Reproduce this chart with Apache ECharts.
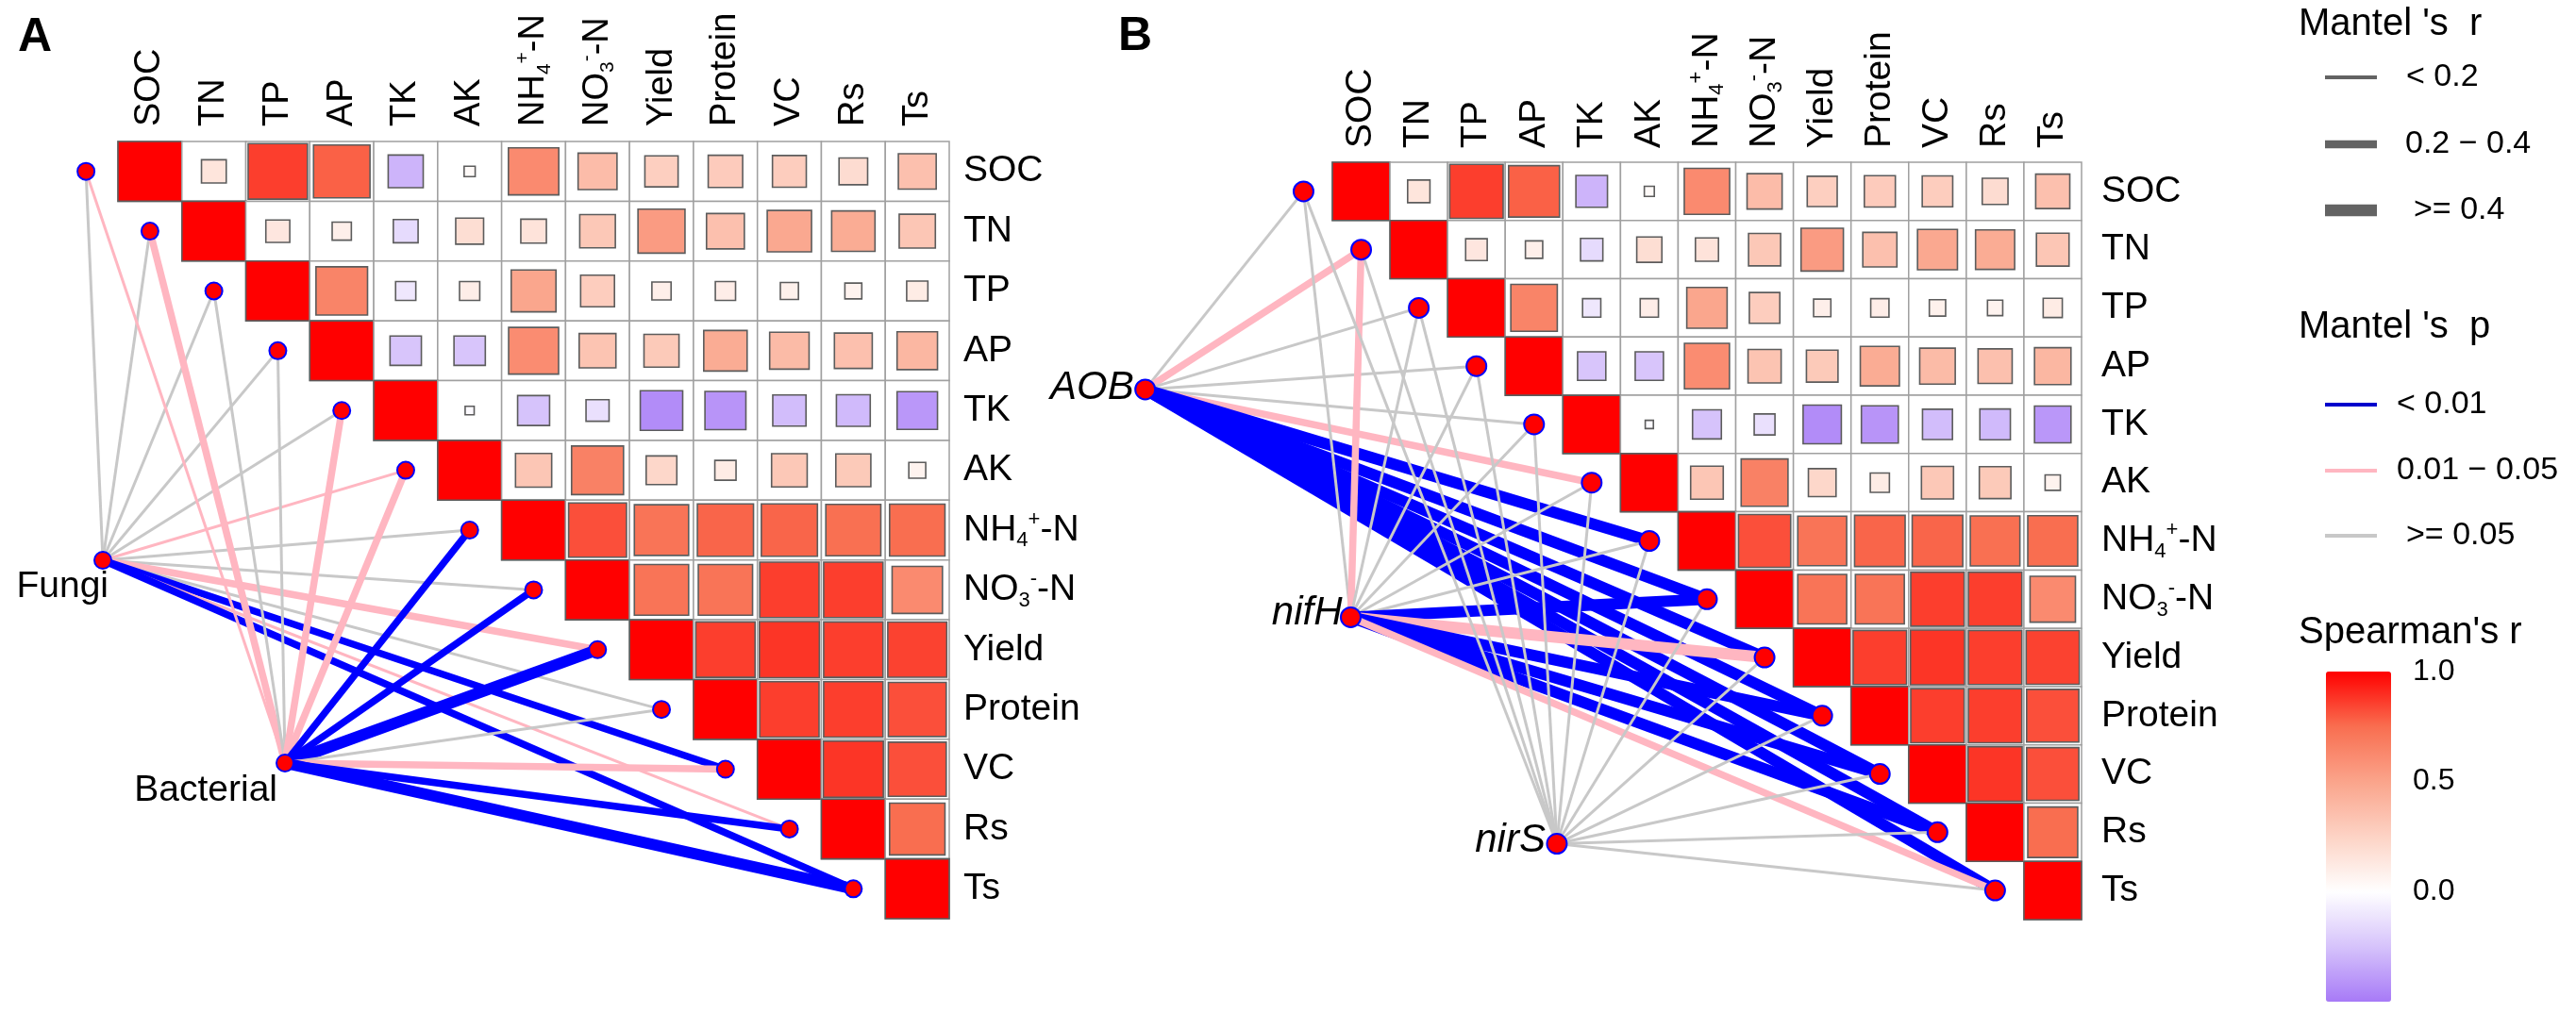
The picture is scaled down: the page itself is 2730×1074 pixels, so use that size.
<!DOCTYPE html>
<html>
<head>
<meta charset="utf-8">
<script src="https://cdn.jsdelivr.net/npm/echarts@6/dist/echarts.min.js"></script>
<style>html,body{margin:0;padding:0;background:#fff}#main{width:2730px;height:1074px}</style>
</head>
<body>
<div id="main"></div>
<script>
// ---------------- data ----------------
const envVars = ['SOC','TN','TP','AP','TK','AK','NH4+-N','NO3--N','Yield','Protein','VC','Rs','Ts'];

// Spearman's r, upper triangle, row by row (starting at the diagonal)
const r_SOC     = [1, 0.15, 0.86, 0.78, -0.30, 0.03, 0.62, 0.37, 0.27, 0.29, 0.28, 0.20, 0.35];
const r_TN      = [1, 0.14, 0.09, -0.15, 0.19, 0.16, 0.31, 0.54, 0.35, 0.48, 0.46, 0.32];
const r_TP      = [1, 0.65, -0.10, 0.10, 0.49, 0.28, 0.09, 0.10, 0.08, 0.07, 0.11];
const r_AP      = [1, -0.24, -0.24, 0.61, 0.33, 0.30, 0.46, 0.38, 0.35, 0.40];
const r_TK      = [1, -0.02, -0.25, -0.13, -0.44, -0.41, -0.27, -0.28, -0.40];
const r_AK      = [1, 0.32, 0.66, 0.23, 0.11, 0.31, 0.30, 0.07];
const r_NH4     = [1, 0.82, 0.72, 0.77, 0.77, 0.74, 0.75];
const r_NO3     = [1, 0.72, 0.72, 0.86, 0.86, 0.62];
const r_Yield   = [1, 0.86, 0.88, 0.86, 0.85];
const r_Protein = [1, 0.86, 0.86, 0.82];
const r_VC      = [1, 0.88, 0.82];
const r_Rs      = [1, 0.75];
const r_Ts      = [1];
const spearmanRows = [r_SOC, r_TN, r_TP, r_AP, r_TK, r_AK, r_NH4, r_NO3, r_Yield, r_Protein, r_VC, r_Rs, r_Ts];

// Mantel tests, panel A
const specA = ['Fungi', 'Bacterial'];
const mantelR_Fungi     = [0.11, 0.13, 0.09, 0.12, 0.14, 0.16, 0.10, 0.12, 0.35, 0.11, 0.31, 0.17, 0.33];
const mantelP_Fungi     = [0.18, 0.12, 0.34, 0.21, 0.09, 0.03, 0.26, 0.15, 0.02, 0.17, 0.005, 0.04, 0.004];
const mantelR_Bacterial = [0.15, 0.27, 0.10, 0.12, 0.26, 0.29, 0.31, 0.30, 0.55, 0.13, 0.36, 0.34, 0.52];
const mantelP_Bacterial = [0.04, 0.02, 0.21, 0.14, 0.03, 0.02, 0.006, 0.004, 0.001, 0.11, 0.02, 0.005, 0.001];

// Mantel tests, panel B
const specB = ['AOB', 'nifH', 'nirS'];
const mantelR_AOB  = [0.12, 0.33, 0.17, 0.16, 0.18, 0.31, 0.62, 0.60, 0.58, 0.61, 0.59, 0.57, 0.56];
const mantelP_AOB  = [0.12, 0.02, 0.08, 0.09, 0.11, 0.03, 0.001, 0.001, 0.001, 0.001, 0.001, 0.001, 0.001];
const mantelR_nifH = [0.10, 0.30, 0.12, 0.11, 0.13, 0.14, 0.15, 0.48, 0.46, 0.52, 0.50, 0.47, 0.24];
const mantelP_nifH = [0.31, 0.03, 0.22, 0.27, 0.19, 0.16, 0.14, 0.002, 0.02, 0.001, 0.002, 0.003, 0.04];
const mantelR_nirS = [0.08, 0.09, 0.10, 0.11, 0.09, 0.12, 0.10, 0.11, 0.13, 0.12, 0.14, 0.18, 0.19];
const mantelP_nirS = [0.42, 0.38, 0.35, 0.29, 0.44, 0.25, 0.33, 0.31, 0.21, 0.27, 0.19, 0.09, 0.07];

// legend / colour-bar ticks
const spearmanTicks = [0, 0.5, 1];
const mantelRLabels = ['< 0.2', '0.2 \u2212 0.4', '>= 0.4'];
const mantelPLabels = ['< 0.01', '0.01 \u2212 0.05', '>= 0.05'];

// ---------------- layout (positions in cell units) ----------------
const nodePosA = [[-0.736, 6.505], [2.112, 9.897]];
const nodePosB = [[-3.747, 3.40], [-0.181, 7.311], [3.396, 11.198]];
const FONT = "'Liberation Sans', Arial, Helvetica, sans-serif";

// ---------------- build series data ----------------
const cellData = [];
spearmanRows.forEach((row, i) => row.forEach((v, k) => cellData.push([i + k, i, v])));

function linkData(rArrs, pArrs) {
  const out = [];
  rArrs.forEach((ra, s) => ra.forEach((r, e) => out.push([s, e, r, pArrs[s][e]])));
  return out;
}
const linksA = linkData([mantelR_Fungi, mantelR_Bacterial], [mantelP_Fungi, mantelP_Bacterial]);
const linksB = linkData([mantelR_AOB, mantelR_nifH, mantelR_nirS], [mantelP_AOB, mantelP_nifH, mantelP_nirS]);
const diagPoints = envVars.map((v, i) => [i - 1, i]);

function lineWidth(r) { return r < 0.2 ? 3 : (r < 0.4 ? 7.5 : 12); }
function lineColor(p) { return p < 0.01 ? '#0000FF' : (p < 0.05 ? '#FFB6C1' : '#C8C8C8'); }

function renderCell(params, api) {
  const j = api.value(0), i = api.value(1), r = api.value(2);
  const c = api.coord([j, i]);
  const s = api.size([1, 1]);
  const f = Math.sqrt(Math.abs(r));
  const w = s[0] * f, h = s[1] * f;
  return {
    type: 'group',
    children: [
      { type: 'rect', shape: { x: c[0] - s[0] / 2, y: c[1] - s[1] / 2, width: s[0], height: s[1] },
        style: { fill: '#FFFFFF', stroke: '#A0A0A0', lineWidth: 1.5 } },
      { type: 'rect', shape: { x: c[0] - w / 2, y: c[1] - h / 2, width: w, height: h },
        style: { fill: api.visual('color'), stroke: '#5C5C5C', lineWidth: 1.6 } }
    ]
  };
}
function makeLinkRenderer(nodePos) {
  return function (params, api) {
    const n = nodePos[api.value(0)];
    const e = api.value(1);
    const a = api.coord(n);
    const b = api.coord([e - 1, e]);
    return {
      type: 'line',
      shape: { x1: a[0], y1: a[1], x2: b[0], y2: b[1] },
      style: { stroke: lineColor(api.value(3)), lineWidth: lineWidth(api.value(2)), lineCap: 'butt' }
    };
  };
}

function fmtLabel(v) {
  if (v === 'NH4+-N') return '{n|NH}{sub|4}{sup|+}{n|-N}';
  if (v === 'NO3--N') return '{n|NO}{sub|3}{sup|-}{n|-N}';
  return '{n|' + v + '}';
}
function rich(fs) {
  return {
    n: { fontSize: fs, fontFamily: FONT, color: '#000', lineHeight: fs * 1.15 },
    sub: { fontSize: Math.round(fs * 0.56), fontFamily: FONT, color: '#000', verticalAlign: 'bottom', lineHeight: fs * 1.15 },
    sup: { fontSize: Math.round(fs * 0.56), fontFamily: FONT, color: '#000', verticalAlign: 'top', lineHeight: fs * 1.15 }
  };
}
function catX(grid, fs, margin) {
  return { gridIndex: grid, type: 'category', data: envVars, position: 'top', boundaryGap: true,
    axisLine: { show: false }, axisTick: { show: false }, splitLine: { show: false },
    axisLabel: { interval: 0, rotate: 90, margin: margin, formatter: fmtLabel, rich: rich(fs) } };
}
function catY(grid, fs, margin) {
  return { gridIndex: grid, type: 'category', data: envVars, position: 'right', inverse: true, boundaryGap: true,
    axisLine: { show: false }, axisTick: { show: false }, splitLine: { show: false },
    axisLabel: { interval: 0, margin: margin, formatter: fmtLabel, rich: rich(fs) } };
}
function valAxis(grid, pos, inv) {
  return { gridIndex: grid, type: 'value', position: pos, inverse: inv, min: -0.5, max: 12.5, show: false };
}

const pointStyle = { color: '#FF0000', borderColor: '#0000FF', borderWidth: 2, opacity: 1 };

function nodeItems(names, pos, size, offsets) {
  return names.map((nm, k) => ({
    name: nm, value: pos[k],
    label: { position: [size / 2 + offsets[k][0], size / 2 + offsets[k][1]] }
  }));
}

// legend graphics
const lg = [];
function gtext(txt, x, y, fs, extra) {
  lg.push(Object.assign({ type: 'text', x: x, y: y, silent: true,
    style: Object.assign({ text: txt, fontSize: fs, fontFamily: FONT, fill: '#000',
      textAlign: 'left', textVerticalAlign: 'middle', align: 'left', verticalAlign: 'middle' }, extra || {}) }));
}
function gline(y, w, color) {
  lg.push({ type: 'line', silent: true, shape: { x1: 2464, y1: y, x2: 2519, y2: y },
    style: { stroke: color, lineWidth: w, lineCap: 'butt' } });
}
gtext('A', 19, 40, 50, { fontWeight: 'bold' });
gtext('B', 1185, 39, 50, { fontWeight: 'bold' });
gtext("Mantel 's  r", 2436, 26, 40);
const rLegY = [82, 153, 223], rLegW = [4, 8.5, 12.5], rLegX = [2550, 2549, 2558];
mantelRLabels.forEach((t, k) => { gline(rLegY[k], rLegW[k], '#636363'); gtext(t, rLegX[k], rLegY[k], 34); });
gtext("Mantel 's  p", 2436, 347, 40);
const pLegY = [429, 499, 568], pLegC = ['#0000CC', '#FFB6C1', '#C8C8C8'], pLegX = [2540, 2540, 2550];
mantelPLabels.forEach((t, k) => { gline(pLegY[k], 4, pLegC[k]); gtext(t, pLegX[k], pLegY[k], 34); });
gtext("Spearman's r", 2436, 671, 40);

const option = {
  animation: false,
  backgroundColor: '#FFFFFF',
  textStyle: { fontFamily: FONT },
  grid: [
    { left: 125, top: 150, width: 881, height: 824 },
    { left: 1412, top: 172, width: 794, height: 803 },
    { left: 2465, top: 712, width: 69, height: 350 }
  ],
  xAxis: [
    catX(0, 38, 16), valAxis(0, 'bottom', false),
    catX(1, 39, 15), valAxis(1, 'bottom', false),
    { gridIndex: 2, type: 'value', min: 0, max: 1, show: false }
  ],
  yAxis: [
    catY(0, 39, 15), valAxis(0, 'left', true),
    catY(1, 39, 21), valAxis(1, 'left', true),
    { gridIndex: 2, type: 'value', position: 'right', min: -0.5, max: 1, interval: 0.5,
      axisLine: { show: false }, axisTick: { show: false }, splitLine: { show: false },
      axisLabel: { margin: 23, fontSize: 32, color: '#000', fontFamily: FONT,
        formatter: v => (spearmanTicks.indexOf(v) >= 0 ? v.toFixed(1) : '') } }
  ],
  visualMap: {
    type: 'continuous', seriesIndex: [0, 1], dimension: 2, min: -0.5, max: 1,
    calculable: false, show: true, orient: 'vertical', left: 2465, top: 712,
    itemWidth: 69, itemHeight: 350, padding: 0, text: null, hoverLink: false,
    inRange: { color: ['#A77AF7', '#D6C3FB', '#FFFFFF', '#FDD3C5', '#FAA48B', '#F96E50', '#FF0000'] }
  },
  graphic: lg,
  series: [
    { type: 'custom', name: 'cellsA', xAxisIndex: 0, yAxisIndex: 0, data: cellData, renderItem: renderCell, silent: true, z: 2 },
    { type: 'custom', name: 'cellsB', xAxisIndex: 2, yAxisIndex: 2, data: cellData, renderItem: renderCell, silent: true, z: 2 },
    { type: 'custom', name: 'linksA', xAxisIndex: 1, yAxisIndex: 1, data: linksA, renderItem: makeLinkRenderer(nodePosA), clip: false, silent: true, z: 3 },
    { type: 'custom', name: 'linksB', xAxisIndex: 3, yAxisIndex: 3, data: linksB, renderItem: makeLinkRenderer(nodePosB), clip: false, silent: true, z: 3 },
    { type: 'scatter', xAxisIndex: 1, yAxisIndex: 1, data: diagPoints, symbol: 'circle', symbolSize: 18, itemStyle: pointStyle, clip: false, silent: true, z: 4 },
    { type: 'scatter', xAxisIndex: 1, yAxisIndex: 1, symbol: 'circle', symbolSize: 18, itemStyle: pointStyle, clip: false, silent: true, z: 4,
      data: nodeItems(specA, nodePosA, 18, [[7, 29], [-7, 30]]),
      label: { show: true, formatter: '{b}', align: 'right', verticalAlign: 'middle', fontSize: 39, color: '#000', fontFamily: FONT } },
    { type: 'scatter', xAxisIndex: 3, yAxisIndex: 3, data: diagPoints, symbol: 'circle', symbolSize: 21, itemStyle: pointStyle, clip: false, silent: true, z: 4 },
    { type: 'scatter', xAxisIndex: 3, yAxisIndex: 3, symbol: 'circle', symbolSize: 21, itemStyle: pointStyle, clip: false, silent: true, z: 4,
      data: nodeItems(specB, nodePosB, 21, [[-11, -1], [-8, -3], [-11, -2]]),
      label: { show: true, formatter: '{b}', align: 'right', verticalAlign: 'middle', fontSize: 42, fontStyle: 'italic', color: '#000', fontFamily: FONT } }
  ]
};

const chart = echarts.init(document.getElementById('main'), null, { renderer: 'canvas' });
chart.setOption(option);
</script>
</body>
</html>
